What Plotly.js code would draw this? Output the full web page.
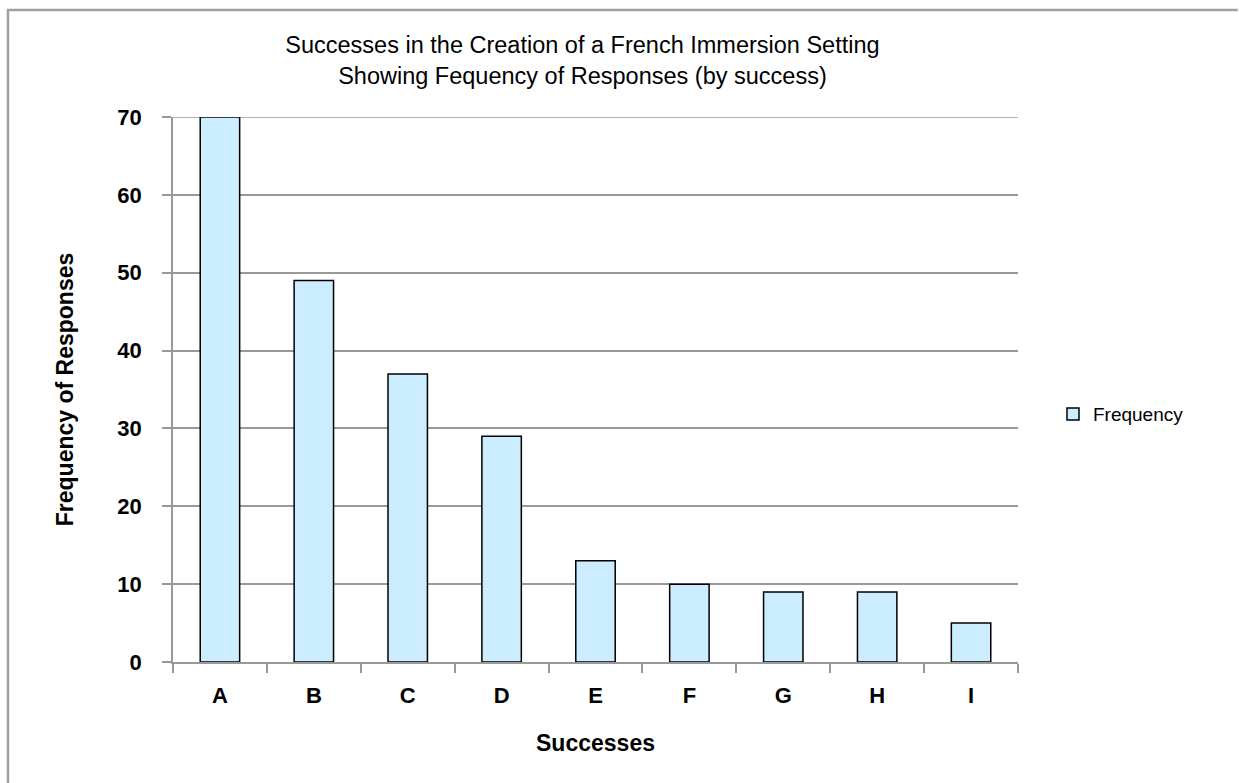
<!DOCTYPE html>
<html>
<head>
<meta charset="utf-8">
<script src="https://cdn.plot.ly/plotly-3.0.1.min.js"></script>
<style>
html,body{margin:0;padding:0;background:#fff;}
#chart{width:1239px;height:783px;}
</style>
</head>
<body>
<div id="chart"></div>
<script>
const categories = ["A","B","C","D","E","F","G","H","I"];
const frequency = [70, 49, 37, 29, 13, 10, 9, 9, 5];
const seriesName = "Frequency";
const yTicks = [0,10,20,30,40,50,60,70];
const yMax = 70;

const FONT = "'Liberation Sans', Arial, sans-serif";

const trace = {
  type: "bar",
  x: categories,
  y: frequency,
  name: seriesName,
  showlegend: true,
  marker: {color: "#CCECFF", line: {color: "#000000", width: 1.5}},
  hoverinfo: "x+y"
};

const layout = {
  width: 1239, height: 783,
  margin: {l:173, r:221, t:117, b:121},
  paper_bgcolor: "#ffffff",
  plot_bgcolor: "#ffffff",
  bargap: 0.58,
  font: {family: FONT, color: "#000"},
  title: {
    text: "Successes in the Creation of a French Immersion Setting<br>Showing Fequency of Responses (by success)",
    font: {family: FONT, size: 23.5, color: "#000"},
    x: 0.4701, xanchor: "center", xref: "container",
    y: 0.932, yanchor: "middle", yref: "container"
  },
  xaxis: {
    type: "category",
    showline: true, linecolor: "#999999", linewidth: 1.5,
    ticks: "outside", ticklen: 9, tickcolor: "#999999", tickwidth: 1.5,
    tickson: "boundaries",
    ticklabelstandoff: 13,
    showgrid: false,
    tickfont: {family: FONT, size: 22, color: "#000", weight: "bold"},
    title: {text: "<b>Successes</b>", font: {family: FONT, size: 23, color: "#000"}, standoff: 28}
  },
  yaxis: {
    range: [0, yMax],
    tickvals: yTicks,
    showline: true, linecolor: "#999999", linewidth: 1.5,
    ticks: "outside", ticklen: 9, tickcolor: "#999999", tickwidth: 1.5,
    ticklabelstandoff: 16,
    showgrid: true, gridcolor: "#999999", gridwidth: 1.5,
    zeroline: false,
    tickfont: {family: FONT, size: 22, color: "#000", weight: "bold"},
    title: {text: "<b>Frequency of Responses</b>", font: {family: FONT, size: 23, color: "#000"}, standoff: 37}
  },
  legend: {
    x: 1.0414, y: 0.455, xanchor: "left", yanchor: "middle",
    font: {family: FONT, size: 19, color: "#000"},
    bgcolor: "rgba(0,0,0,0)", itemwidth: 30
  },
  shapes: [
    {
      type: "line", xref: "paper", yref: "y",
      x0: 0, x1: 1, y0: yMax, y1: yMax,
      line: {color: "#999999", width: 1.5},
      layer: "below"
    },
    {
      type: "path", xref: "paper", yref: "paper",
      path: "M -0.1953 -0.23 L -0.1953 1.1963 L 1.26 1.1963",
      line: {color: "#A0A0A0", width: 2.5}
    }
  ]
};

Plotly.newPlot("chart", [trace], layout, {displayModeBar: false, responsive: false});
</script>
</body>
</html>
